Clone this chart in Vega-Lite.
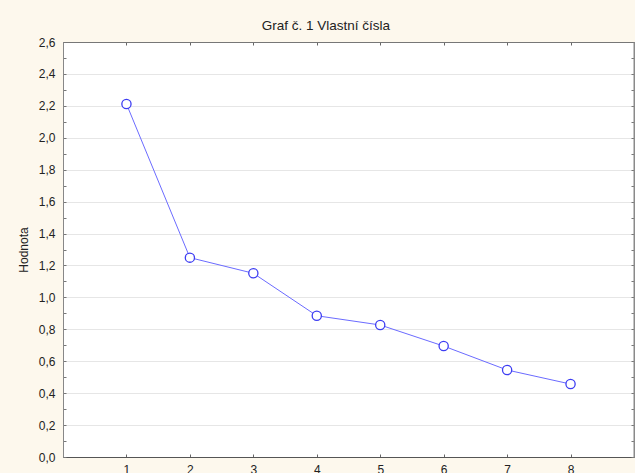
{
  "$schema": "https://vega.github.io/schema/vega-lite/v6.json",
  "width": 571,
  "height": 415,
  "autosize": {"type": "none"},
  "padding": {"left": 63, "top": 42, "right": 1, "bottom": 16},
  "background": "#fdf8ed",
  "config": {
    "view": {"fill": "#ffffff", "stroke": "#7a7a7a", "strokeWidth": 1},
    "font": "Liberation Sans",
    "axis": {"labelFont": "Liberation Sans", "titleFont": "Liberation Sans", "labelFontSize": 12, "titleFontSize": 12, "titleFontWeight": "normal", "labelColor": "#222222", "titleColor": "#222222"}
  },
  "title": {"text": "Graf č. 1 Vlastní čísla", "anchor": "middle", "frame": "bounds", "fontSize": 13.5, "fontWeight": "normal", "font": "Liberation Sans", "color": "#222222", "offset": 4},
  "data": {"values": [
    {"n": 1, "v": 2.212},
    {"n": 2, "v": 1.249},
    {"n": 3, "v": 1.151},
    {"n": 4, "v": 0.885},
    {"n": 5, "v": 0.827},
    {"n": 6, "v": 0.695},
    {"n": 7, "v": 0.545},
    {"n": 8, "v": 0.457}
  ]},
  "resolve": {"axis": {"x": "independent", "y": "independent"}},
  "layer": [
    {
      "mark": {"type": "line", "color": "#6b6bff", "strokeWidth": 1},
      "encoding": {
        "x": {"field": "n", "type": "quantitative", "scale": {"domain": [0, 9], "nice": false, "zero": false},
          "axis": {"orient": "bottom", "title": null, "values": [1,2,3,4,5,6,7,8], "grid": false, "tickSize": -3, "tickColor": "#666666", "domainColor": "#555555", "labelPadding": 10, "labelBaseline": "top"}},
        "y": {"field": "v", "type": "quantitative", "scale": {"domain": [0, 2.6], "nice": false},
          "axis": {"orient": "left", "title": "Hodnota", "titlePadding": 8,
            "values": [0,0.1,0.2,0.3,0.4,0.5,0.6,0.7,0.8,0.9,1.0,1.1,1.2,1.3,1.4,1.5,1.6,1.7,1.8,1.9,2.0,2.1,2.2,2.3,2.4,2.5,2.6],
            "labelExpr": "round(datum.value*10)%2===0 ? replace(format(datum.value,'.1f'),'.',',') : ''",
            "grid": true, "gridColor": "#e6e6e6",
            "gridOpacity": {"condition": {"test": "round(datum.value*10)%2===0 && datum.value>0 && datum.value<2.6", "value": 1}, "value": 0},
            "tickSize": -3, "tickColor": "#777777", "domainColor": "#888888", "labelPadding": 11}}
      }
    },
    {
      "mark": {"type": "point", "shape": "circle", "size": 85, "filled": false, "fill": "#ffffff", "fillOpacity": 1, "stroke": "#3d3df2", "strokeWidth": 1.3, "opacity": 1},
      "encoding": {
        "x": {"field": "n", "type": "quantitative", "axis": null},
        "y": {"field": "v", "type": "quantitative", "axis": null}
      }
    },
    {
      "mark": {"type": "point", "opacity": 0},
      "encoding": {
        "x": {"field": "n", "type": "quantitative",
          "axis": {"orient": "top", "title": null, "labels": false, "values": [1,2,3,4,5,6,7,8], "grid": false, "tickSize": -3, "tickColor": "#666666", "domainColor": "#777777"}},
        "y": {"field": "v", "type": "quantitative",
          "axis": {"orient": "right", "title": null, "labels": false,
            "values": [0,0.1,0.2,0.3,0.4,0.5,0.6,0.7,0.8,0.9,1.0,1.1,1.2,1.3,1.4,1.5,1.6,1.7,1.8,1.9,2.0,2.1,2.2,2.3,2.4,2.5,2.6],
            "grid": false, "tickSize": -3, "tickColor": "#777777", "domainColor": "#8a8a8a", "domainWidth": 2}}
      }
    }
  ]
}
